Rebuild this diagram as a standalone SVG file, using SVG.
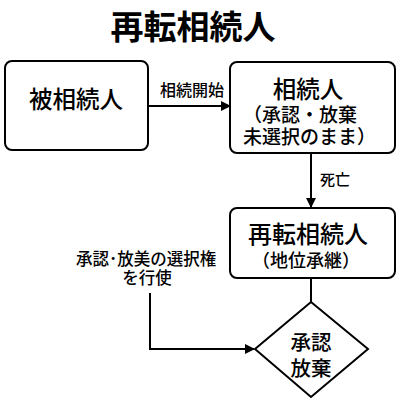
<svg xmlns="http://www.w3.org/2000/svg" width="400" height="400" viewBox="0 0 400 400">
<style>
text{font-family:"Noto Sans CJK JP","Noto Sans",sans-serif;fill:#000;font-weight:500}
.box{fill:#fff;stroke:#000;stroke-width:2}
.ln{fill:none;stroke:#000;stroke-width:2}
.t{text-anchor:middle}
</style>
<defs>
<marker id="ah" markerWidth="10" markerHeight="10" refX="9" refY="5" orient="auto" markerUnits="userSpaceOnUse">
<path d="M0,0 L10,5 L0,10 z" fill="#000"/>
</marker>
</defs>
<rect width="400" height="400" fill="#fff"/>
<text x="193" y="39" class="t" font-size="33" font-weight="bold" style="font-weight:bold">再転相続人</text>
<g id="connectors">
<line class="ln" x1="148" y1="106" x2="230" y2="106" marker-end="url(#ah)"/>
<line class="ln" x1="311" y1="153" x2="311" y2="207" marker-end="url(#ah)"/>
<line class="ln" x1="311" y1="278" x2="311" y2="302"/>
<polyline class="ln" points="150,293 150,349 254,349" marker-end="url(#ah)"/>
<text x="192" y="96" class="t" font-size="16">相続開始</text>
<text x="335" y="185" class="t" font-size="15">死亡</text>
<text x="146" y="265" class="t" font-size="16.5">承認･放美の選択権</text>
<text x="147" y="284" class="t" font-size="16.5">を行使</text>
</g>
<g id="n1">
<rect class="box" x="5" y="61" width="143" height="89" rx="7"/>
<text x="76" y="108" class="t" font-size="23.5">被相続人</text>
</g>
<g id="n2">
<rect class="box" x="230" y="62" width="165" height="91" rx="7"/>
<text x="308" y="98" class="t" font-size="23.5">相続人</text>
<text x="243" y="122" font-size="19">（承認・放棄</text>
<text x="243" y="144" font-size="19">未選択のまま）</text>
</g>
<g id="n3">
<rect class="box" x="230" y="208" width="165" height="70" rx="7"/>
<text x="308" y="243" class="t" font-size="24">再転相続人</text>
<text x="306" y="267" class="t" font-size="18">（地位承継）</text>
</g>
<g id="n4">
<polygon class="box" points="311,302 368,349 311,397 255,349"/>
<text x="311" y="350" class="t" font-size="20.5">承認</text>
<text x="311" y="376" class="t" font-size="20.5">放棄</text>
</g>
</svg>
